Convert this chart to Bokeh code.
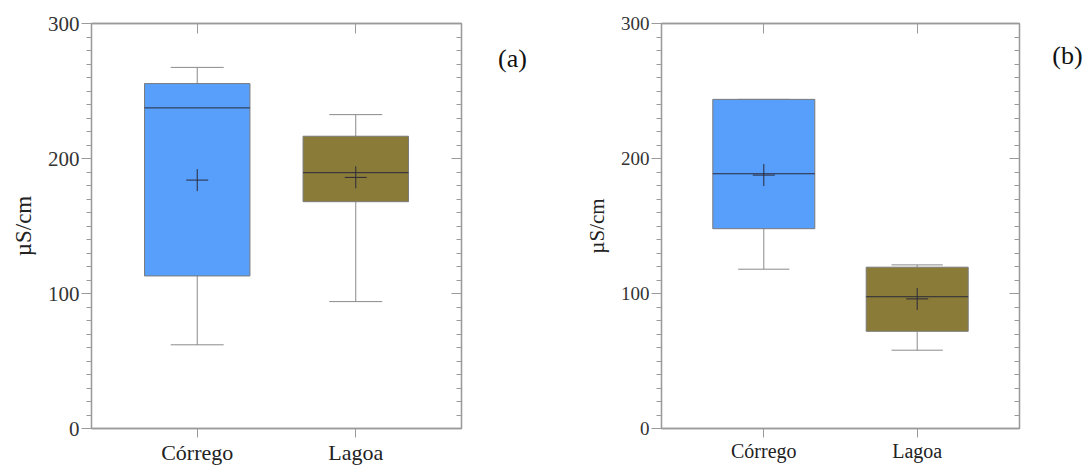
from bokeh.plotting import figure
from bokeh.layouts import row
from bokeh.models import (LinearAxis, FixedTicker, Range1d, Label, ColumnDataSource)
from bokeh.embed import file_html
from bokeh.resources import INLINE

categories = ["Córrego", "Lagoa"]
cat_pos = [1, 2]
colors = ["#579ffb", "#8a7b39"]

# panel (a)
a_min = [62, 94]
a_q1 = [113, 168]
a_med = [237.5, 189.5]
a_q3 = [255.5, 216.5]
a_max = [267.5, 232.5]
a_mean = [184, 186]

# panel (b)
b_min = [118, 58]
b_q1 = [148, 72]
b_med = [188.7, 97.6]
b_q3 = [243.8, 119.5]
b_max = [243.8, 121.2]
b_mean = [187.7, 96]

y_major = [0, 100, 200, 300]
y_minor = list(range(0, 301, 10))
panel_tags = ["(a)", "(b)"]

FONT = "Liberation Serif"
FRAME = "#9a9a9a"
H = 468


def style_line(a):
    a.axis_line_color = FRAME
    a.major_tick_line_color = FRAME
    a.minor_tick_line_color = FRAME
    a.axis_line_width = 1.3


def make_panel(width, borders, mins, q1, med, q3, maxs, means,
               tick_fs, axis_fs, cat_fs, ylab_standoff):
    left, right, top, bottom = borders
    p = figure(width=width, height=H, output_backend="svg", toolbar_location=None,
               x_range=Range1d(0.333, 2.667), y_range=Range1d(0, 300),
               min_border_left=left, min_border_right=right,
               min_border_top=top, min_border_bottom=bottom,
               x_axis_type=None, y_axis_type=None)
    p.grid.visible = False
    p.outline_line_color = FRAME
    p.outline_line_width = 1.3
    p.background_fill_color = "white"
    p.border_fill_color = "white"

    labels = {c: n for c, n in zip(cat_pos, categories)}

    # left axis
    ly = LinearAxis(ticker=FixedTicker(ticks=y_major, minor_ticks=y_minor))
    ly.axis_label = "µS/cm"
    ly.axis_label_text_font = FONT
    ly.axis_label_text_font_style = "normal"
    ly.axis_label_text_font_size = axis_fs
    ly.axis_label_text_color = "#222222"
    ly.axis_label_standoff = ylab_standoff
    ly.major_label_text_font = FONT
    ly.major_label_text_font_size = tick_fs
    ly.major_label_text_color = "#333333"
    ly.major_label_standoff = 2
    ly.major_tick_in = 0
    ly.major_tick_out = 10
    ly.minor_tick_in = 0
    ly.minor_tick_out = 5
    style_line(ly)
    p.add_layout(ly, "left")

    # right axis (ticks inward, no labels)
    ry = LinearAxis(ticker=FixedTicker(ticks=y_major, minor_ticks=y_minor))
    ry.major_label_overrides = {t: "" for t in y_major}
    ry.major_label_standoff = 0
    ry.major_tick_in = 10
    ry.major_tick_out = 0
    ry.minor_tick_in = 5
    ry.minor_tick_out = 0
    style_line(ry)
    p.add_layout(ry, "right")

    # bottom axis
    bx = LinearAxis(ticker=FixedTicker(ticks=cat_pos))
    bx.major_label_overrides = labels
    bx.major_label_text_font = FONT
    bx.major_label_text_font_size = cat_fs
    bx.major_label_text_color = "#222222"
    bx.major_label_standoff = 2
    bx.major_tick_in = 0
    bx.major_tick_out = 9
    bx.minor_tick_line_color = None
    style_line(bx)
    p.add_layout(bx, "below")

    # top axis
    tx = LinearAxis(ticker=FixedTicker(ticks=cat_pos))
    tx.major_label_overrides = {c: "" for c in cat_pos}
    tx.major_label_standoff = 0
    tx.major_tick_in = 10
    tx.major_tick_out = 0
    tx.minor_tick_line_color = None
    style_line(tx)
    p.add_layout(tx, "above")

    bw = 0.665
    cw = 0.334
    src = ColumnDataSource(dict(
        x=cat_pos, q1=q1, q3=q3, med=med, mn=mins, mx=maxs, mean=means, color=colors,
        x0=[c - bw / 2 for c in cat_pos], x1=[c + bw / 2 for c in cat_pos],
        c0=[c - cw / 2 for c in cat_pos], c1=[c + cw / 2 for c in cat_pos]))

    # whiskers
    p.segment(x0="x", y0="q3", x1="x", y1="mx", source=src, line_color="#8a8a8a", line_width=1)
    p.segment(x0="x", y0="q1", x1="x", y1="mn", source=src, line_color="#8a8a8a", line_width=1)
    p.segment(x0="c0", y0="mx", x1="c1", y1="mx", source=src, line_color="#8a8a8a", line_width=1)
    p.segment(x0="c0", y0="mn", x1="c1", y1="mn", source=src, line_color="#8a8a8a", line_width=1)
    # boxes
    p.vbar(x="x", width=bw, top="q3", bottom="q1", source=src, fill_color="color",
           line_color="#7a7a7a", line_width=1)
    # median
    p.segment(x0="x0", y0="med", x1="x1", y1="med", source=src, line_color="#2a2a3a", line_width=1)
    # mean
    p.scatter(x="x", y="mean", source=src, marker="cross", size=22,
              line_color="#2a2a3a", line_width=1)
    return p


def make_tag(width, tag, tx, ty):
    t = figure(width=width, height=H, output_backend="svg", toolbar_location=None,
               x_range=Range1d(0, width), y_range=Range1d(0, H),
               min_border=0, x_axis_type=None, y_axis_type=None)
    t.grid.visible = False
    t.outline_line_color = None
    t.add_layout(Label(x=tx, y=ty, text=tag, text_font=FONT,
                       text_font_size="26px", text_color="#111111",
                       text_align="center", text_baseline="middle"))
    return t


pa = make_panel(467, (91, 6, 23, 40), a_min, a_q1, a_med, a_q3, a_max, a_mean,
                "21px", "23px", "22px", 9)
ta = make_tag(545 - 467, panel_tags[0], 45, H - 41)
pb = make_panel(480, (116, 6, 18, 35), b_min, b_q1, b_med, b_q3, b_max, b_mean,
                "19px", "21px", "20px", 9)
tb = make_tag(544 - 480, panel_tags[1], 42, H - 37)

layout = row(pa, ta, pb, tb)
open("out.html", "w").write(file_html(layout, INLINE))
